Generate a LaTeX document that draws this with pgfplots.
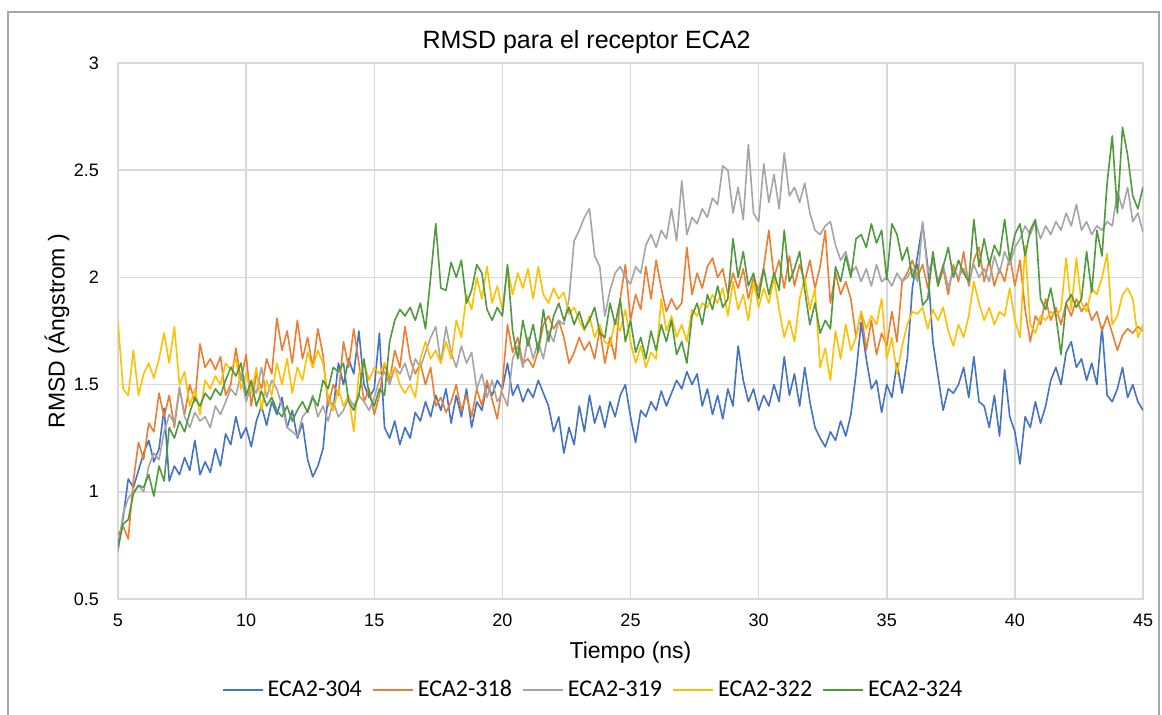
\documentclass[border=0pt]{standalone}
\usepackage{pgfplots}
\usepackage{pgfplotstable}
\pgfplotsset{compat=1.18}
\usepackage{fontspec}
\setmainfont{Liberation Sans}
\newfontfamily\carlito{Carlito}
\definecolor{cblue}{HTML}{4472C4}
\definecolor{corange}{HTML}{ED7D31}
\definecolor{cgray}{HTML}{A5A5A5}
\definecolor{cyellow}{HTML}{FFC000}
\definecolor{cgreen}{HTML}{4E9A3C}
\definecolor{gridc}{HTML}{D9D9D9}
\definecolor{framec}{HTML}{A6A6A6}

\pgfplotstableread{
t a b c d e
5.0 0.75 0.80 0.72 1.79 0.74
5.2 0.88 0.84 0.90 1.48 0.85
5.4 1.06 0.78 0.97 1.45 0.87
5.6 1.02 1.05 1.00 1.66 0.99
5.8 1.10 1.23 1.03 1.45 1.03
6.0 1.18 1.15 1.00 1.55 1.02
6.2 1.24 1.32 1.12 1.60 1.08
6.4 1.14 1.28 1.18 1.53 0.98
6.6 1.20 1.46 1.15 1.62 1.12
6.8 1.39 1.35 1.28 1.74 1.05
7.0 1.05 1.45 1.36 1.60 1.30
7.2 1.12 1.30 1.32 1.77 1.25
7.4 1.08 1.48 1.49 1.50 1.33
7.6 1.16 1.36 1.35 1.56 1.28
7.8 1.10 1.50 1.30 1.40 1.37
8.0 1.24 1.42 1.37 1.48 1.44
8.2 1.08 1.69 1.33 1.36 1.40
8.4 1.14 1.58 1.35 1.52 1.46
8.6 1.09 1.62 1.30 1.48 1.43
8.8 1.20 1.57 1.40 1.54 1.48
9.0 1.12 1.63 1.36 1.50 1.45
9.2 1.27 1.45 1.42 1.60 1.52
9.4 1.22 1.50 1.48 1.57 1.58
9.6 1.35 1.67 1.45 1.62 1.54
9.8 1.25 1.52 1.55 1.48 1.60
10.0 1.30 1.64 1.42 1.55 1.45
10.2 1.21 1.40 1.50 1.46 1.52
10.4 1.33 1.55 1.46 1.58 1.40
10.6 1.40 1.48 1.58 1.38 1.47
10.8 1.31 1.62 1.44 1.52 1.40
11.0 1.42 1.55 1.52 1.45 1.44
11.2 1.36 1.81 1.48 1.60 1.38
11.4 1.44 1.66 1.40 1.50 1.35
11.6 1.30 1.75 1.30 1.62 1.40
11.8 1.38 1.60 1.28 1.46 1.33
12.0 1.25 1.80 1.26 1.58 1.38
12.2 1.32 1.62 1.35 1.52 1.42
12.4 1.15 1.72 1.38 1.65 1.37
12.6 1.07 1.58 1.45 1.58 1.44
12.8 1.12 1.76 1.35 1.66 1.40
13.0 1.20 1.64 1.40 1.60 1.52
13.2 1.45 1.40 1.33 1.44 1.48
13.4 1.38 1.50 1.42 1.38 1.58
13.6 1.60 1.45 1.35 1.48 1.56
13.8 1.50 1.70 1.38 1.40 1.60
14.0 1.62 1.58 1.44 1.45 1.42
14.2 1.55 1.76 1.40 1.28 1.38
14.4 1.75 1.60 1.45 1.55 1.45
14.6 1.50 1.42 1.42 1.60 1.62
14.8 1.44 1.48 1.38 1.52 1.45
15.0 1.48 1.36 1.44 1.58 1.40
15.2 1.74 1.45 1.52 1.55 1.48
15.4 1.30 1.60 1.56 1.60 1.45
15.6 1.25 1.52 1.50 1.54 1.70
15.8 1.33 1.66 1.58 1.58 1.80
16.0 1.22 1.58 1.55 1.50 1.85
16.2 1.30 1.77 1.60 1.46 1.82
16.4 1.25 1.62 1.52 1.50 1.86
16.6 1.37 1.55 1.62 1.44 1.80
16.8 1.33 1.60 1.58 1.62 1.88
17.0 1.42 1.50 1.65 1.70 1.76
17.2 1.35 1.58 1.72 1.62 2.00
17.4 1.45 1.40 1.77 1.66 2.25
17.6 1.38 1.44 1.60 1.60 1.95
17.8 1.48 1.37 1.77 1.70 1.94
18.0 1.32 1.42 1.65 1.62 2.07
18.2 1.45 1.50 1.58 1.80 2.00
18.4 1.35 1.38 1.68 1.72 2.08
18.6 1.48 1.45 1.60 1.92 1.88
18.8 1.30 1.35 1.65 1.85 1.94
19.0 1.42 1.48 1.48 2.00 2.06
19.2 1.38 1.40 1.55 1.90 2.02
19.4 1.50 1.52 1.44 2.05 1.85
19.6 1.45 1.43 1.52 1.88 1.80
19.8 1.52 1.34 1.42 1.96 1.86
20.0 1.48 1.50 1.46 1.85 1.82
20.2 1.60 1.78 1.40 2.05 2.06
20.4 1.45 1.65 1.62 1.92 1.75
20.6 1.50 1.72 1.68 2.02 1.62
20.8 1.42 1.60 1.58 1.95 1.80
21.0 1.48 1.62 1.72 2.04 1.68
21.2 1.44 1.58 1.62 1.90 1.78
21.4 1.52 1.66 1.70 2.05 1.65
21.6 1.46 1.78 1.62 1.92 1.85
21.8 1.40 1.82 1.75 1.88 1.70
22.0 1.28 1.76 1.70 1.95 1.82
22.2 1.35 1.80 1.80 1.90 1.88
22.4 1.18 1.72 1.78 1.93 1.80
22.6 1.30 1.60 1.90 1.83 1.86
22.8 1.22 1.65 2.17 1.86 1.78
23.0 1.40 1.72 2.22 1.80 1.84
23.2 1.28 1.66 2.28 1.75 1.76
23.4 1.45 1.70 2.32 1.82 1.80
23.6 1.32 1.62 2.10 1.72 1.86
23.8 1.40 1.76 2.05 1.78 1.74
24.0 1.30 1.60 1.82 1.70 1.72
24.2 1.42 1.72 1.94 1.68 1.88
24.4 1.35 1.62 2.02 1.80 1.78
24.6 1.45 1.90 2.05 1.75 1.90
24.8 1.50 2.06 2.00 1.85 1.70
25.0 1.35 1.80 1.97 1.70 1.80
25.2 1.23 1.92 2.05 1.60 1.65
25.4 1.38 1.85 2.02 1.68 1.72
25.6 1.35 2.05 2.15 1.58 1.62
25.8 1.42 1.90 2.20 1.65 1.75
26.0 1.38 2.08 2.14 1.62 1.66
26.2 1.47 1.95 2.22 1.90 1.78
26.4 1.40 1.84 2.18 1.75 1.70
26.6 1.46 1.90 2.32 1.82 1.80
26.8 1.52 1.85 2.17 1.72 1.64
27.0 1.48 1.88 2.45 1.78 1.70
27.2 1.56 2.14 2.20 1.70 1.60
27.4 1.50 1.92 2.28 1.85 1.82
27.6 1.55 2.02 2.25 1.82 1.88
27.8 1.40 1.95 2.32 1.88 1.78
28.0 1.48 2.05 2.28 1.86 1.92
28.2 1.36 2.09 2.37 1.92 1.85
28.4 1.45 2.00 2.34 1.88 1.96
28.6 1.34 2.04 2.52 1.95 1.86
28.8 1.48 1.92 2.50 1.82 1.90
29.0 1.40 2.02 2.30 1.98 2.18
29.2 1.68 1.95 2.42 1.85 2.00
29.4 1.52 2.04 2.27 1.92 2.12
29.6 1.42 1.90 2.62 1.80 1.96
29.8 1.48 2.00 2.30 1.98 2.02
30.0 1.38 1.94 2.26 1.86 1.90
30.2 1.45 2.05 2.53 1.95 2.04
30.4 1.40 2.22 2.35 1.88 1.92
30.6 1.50 2.00 2.48 2.00 2.02
30.8 1.42 2.08 2.32 1.85 1.94
31.0 1.63 1.95 2.58 1.72 2.22
31.2 1.45 2.10 2.38 1.80 1.98
31.4 1.55 1.96 2.42 1.70 2.04
31.6 1.40 2.06 2.35 1.90 2.12
31.8 1.58 1.98 2.44 2.00 1.94
32.0 1.42 2.08 2.30 1.85 1.78
32.2 1.30 1.95 2.22 1.95 1.88
32.4 1.25 2.05 2.20 1.58 1.74
32.6 1.21 2.22 2.24 1.67 1.80
32.8 1.28 1.88 2.26 1.52 1.76
33.0 1.24 2.02 2.15 1.75 2.05
33.2 1.33 1.92 2.08 1.62 1.98
33.4 1.26 1.98 2.12 1.78 2.10
33.6 1.36 1.90 2.02 1.66 2.00
33.8 1.55 1.72 2.05 1.72 2.18
34.0 1.79 1.84 1.98 1.84 2.20
34.2 1.62 1.66 2.04 1.76 2.14
34.4 1.48 1.80 1.96 1.82 2.25
34.6 1.52 1.64 2.06 1.78 2.16
34.8 1.37 1.74 1.98 1.90 2.22
35.0 1.50 1.68 2.00 1.62 1.99
35.2 1.44 1.84 1.96 1.72 2.25
35.4 1.60 1.70 2.02 1.55 2.20
35.6 1.46 1.98 1.98 1.68 2.08
35.8 1.62 2.02 2.00 1.78 2.14
36.0 1.95 2.08 2.04 1.84 2.00
36.2 2.10 2.00 1.98 1.83 2.06
36.4 2.25 2.06 2.26 1.86 1.87
36.6 2.05 1.95 2.02 1.76 1.90
36.8 1.70 2.10 2.08 1.85 2.12
37.0 1.54 1.96 1.98 1.80 1.96
37.2 1.38 2.04 2.06 1.86 2.05
37.4 1.48 1.92 1.95 1.75 2.14
37.6 1.46 2.06 2.04 1.68 2.00
37.8 1.50 1.98 2.00 1.78 2.08
38.0 1.58 2.12 2.04 1.72 2.02
38.2 1.44 1.96 1.98 1.82 1.98
38.4 1.63 2.08 2.06 1.98 2.27
38.6 1.42 2.14 2.00 1.88 2.05
38.8 1.40 1.98 2.04 1.80 2.18
39.0 1.30 2.08 1.98 1.86 2.06
39.2 1.45 1.96 2.10 1.78 2.15
39.4 1.26 2.04 2.02 1.84 2.10
39.6 1.57 1.98 2.12 1.82 2.27
39.8 1.35 2.10 2.06 1.95 2.08
40.0 1.28 1.96 2.14 1.80 2.20
40.2 1.13 2.08 2.18 1.72 2.25
40.4 1.35 1.85 2.24 2.15 2.10
40.6 1.30 1.70 2.20 1.78 2.22
40.8 1.42 1.82 2.26 1.74 2.27
41.0 1.32 1.78 2.18 1.82 1.90
41.2 1.40 1.90 2.24 1.80 1.85
41.4 1.52 1.80 2.20 1.84 1.95
41.6 1.58 1.86 2.26 1.82 1.82
41.8 1.50 1.78 2.22 1.85 1.64
42.0 1.65 1.88 2.30 2.09 1.88
42.2 1.70 1.82 2.24 1.85 1.92
42.4 1.58 1.90 2.34 2.09 1.86
42.6 1.62 1.84 2.22 1.88 1.90
42.8 1.52 1.88 2.26 1.84 2.12
43.0 1.60 1.80 2.20 1.95 1.93
43.2 1.50 1.84 2.24 1.92 2.22
43.4 1.77 1.75 2.22 2.00 2.10
43.6 1.45 1.82 2.26 2.11 2.44
43.8 1.42 1.74 2.24 1.78 2.66
44.0 1.48 1.66 2.40 1.82 2.30
44.2 1.58 1.73 2.32 1.92 2.70
44.4 1.44 1.76 2.42 1.95 2.57
44.6 1.50 1.74 2.26 1.90 2.38
44.8 1.42 1.77 2.30 1.72 2.32
45.0 1.38 1.75 2.21 1.78 2.42
}\datatable

\begin{document}
\begin{tikzpicture}
\useasboundingbox (0,0) rectangle (581pt,357.5pt);
\fill[white] (0,0) rectangle (581pt,357.5pt);
\draw[framec, line width=1pt] (4pt,-10pt) -- (4pt,351.5pt) -- (579.5pt,351.5pt) -- (579.5pt,-10pt);
\begin{axis}[
  at={(59pt,58pt)}, anchor=south west,
  scale only axis, width=512.5pt, height=268pt,
  xmin=5, xmax=45, ymin=0.5, ymax=3,
  xtick={5,10,...,45}, ytick={0.5,1,1.5,2,2.5,3},
  yticklabels={0.5,1,1.5,2,2.5,3},
  major tick length=0pt,
  grid=major,
  grid style={gridc, line width=0.75pt},
  axis line style={gridc, line width=0.75pt},
  tick label style={font=\fontsize{9}{10}\selectfont, black},
  /pgf/number format/assume math mode=true,
  yticklabel style={xshift=-6pt},
  xticklabel style={yshift=-4pt},
  xlabel={Tiempo (ns)},
  xlabel style={at={(axis description cs:0.5,-0.10)}, anchor=center, font=\fontsize{11.5}{13}\selectfont},
  ylabel={RMSD (Ángstrom )},
  ylabel style={at={(axis description cs:-0.0595,0.5)}, anchor=center, rotate=0, font=\fontsize{11.5}{13}\selectfont},
  legend columns=5,
  legend style={at={(axis description cs:0.4644,-0.17)}, anchor=center, draw=none, fill=none,
    font=\carlito\fontsize{12}{14}\selectfont,
    /tikz/every even column/.append style={column sep=3pt},
    inner sep=0pt},
  legend image code/.code={\draw[#1, line width=1pt] (0pt,0pt) -- (20pt,0pt);},
  every axis plot/.append style={line width=0.8pt, line join=round},
]
\addplot[cblue] table[x=t,y=a]{\datatable};
\addlegendentry{ECA2-304}
\addplot[corange] table[x=t,y=b]{\datatable};
\addlegendentry{ECA2-318}
\addplot[cgray] table[x=t,y=c]{\datatable};
\addlegendentry{ECA2-319}
\addplot[cyellow] table[x=t,y=d]{\datatable};
\addlegendentry{ECA2-322}
\addplot[cgreen] table[x=t,y=e]{\datatable};
\addlegendentry{ECA2-324}
\end{axis}
\node[font=\fontsize{12.5}{14}\selectfont, anchor=center] at (293.25pt,336.5pt) {RMSD para el receptor ECA2};
\end{tikzpicture}
\end{document}
